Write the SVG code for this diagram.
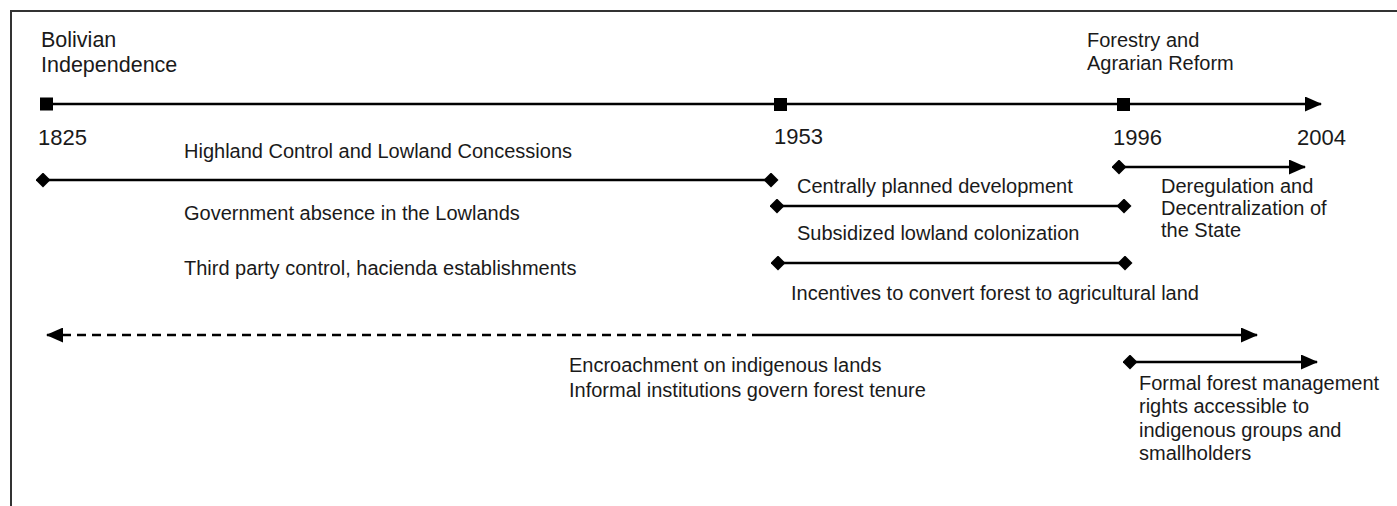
<svg xmlns="http://www.w3.org/2000/svg" width="1397" height="506" viewBox="0 0 1397 506">
<style>
  text { font-family: "Liberation Sans", Arial, sans-serif; font-size: 20px; fill: #1a1a1a; }
  .yr { font-size: 22px; }
  .big { font-size: 21.5px; }
  .ln { stroke: #000; stroke-width: 2.6; fill: none; }
  .dash { stroke-dasharray: 9 6; }
  .sq { fill: #000; }
</style>
<defs>
  <marker id="arr" viewBox="0 0 17 15" refX="16" refY="7.5" markerWidth="17" markerHeight="15" markerUnits="userSpaceOnUse" orient="auto-start-reverse">
    <path d="M0,0 L17,7.5 L0,15 Z" fill="#000"/>
  </marker>
  <marker id="dia" viewBox="0 0 15 15" refX="7.5" refY="7.5" markerWidth="15" markerHeight="15" markerUnits="userSpaceOnUse" orient="0">
    <path d="M7.5,0 L15,7.5 L7.5,15 L0,7.5 Z" fill="#000"/>
  </marker>
</defs>
<rect width="1397" height="506" fill="#fff"/>
<g id="frame">
  <path d="M11,506 L11,11 L1397,11" stroke="#333" stroke-width="2" fill="none"/>
</g>
<g id="connectors">
  <line id="main-timeline" class="ln" x1="47" y1="104" x2="1321" y2="104" marker-end="url(#arr)"/>
  <line class="ln" x1="43" y1="180" x2="771" y2="180" marker-start="url(#dia)" marker-end="url(#dia)"/>
  <line class="ln" x1="777" y1="206" x2="1124" y2="206" marker-start="url(#dia)" marker-end="url(#dia)"/>
  <line class="ln" x1="778" y1="263" x2="1125" y2="263" marker-start="url(#dia)" marker-end="url(#dia)"/>
  <line class="ln" x1="1119" y1="167" x2="1305" y2="167" marker-start="url(#dia)" marker-end="url(#arr)"/>
  <line class="ln dash" x1="47" y1="335" x2="757" y2="335" marker-start="url(#arr)"/>
  <line class="ln" x1="757" y1="335" x2="1257" y2="335" marker-end="url(#arr)"/>
  <line class="ln" x1="1130" y1="362" x2="1317" y2="362" marker-start="url(#dia)" marker-end="url(#arr)"/>
</g>
<g id="node-1825">
  <rect class="sq" x="40" y="97.5" width="13" height="13"/>
  <text class="big" x="41" y="47">Bolivian</text>
  <text class="big" x="41" y="72">Independence</text>
  <text class="yr" x="38" y="145">1825</text>
</g>
<g id="node-1953">
  <rect class="sq" x="774" y="98" width="13" height="13"/>
  <text class="yr" x="774" y="144">1953</text>
</g>
<g id="node-1996">
  <rect class="sq" x="1117" y="98" width="13" height="13"/>
  <text x="1087" y="47">Forestry and</text>
  <text x="1087" y="70">Agrarian Reform</text>
  <text class="yr" x="1113" y="145">1996</text>
</g>
<g id="node-2004">
  <text class="yr" x="1297" y="145">2004</text>
</g>
<g id="period-1825-1953">
  <text x="184" y="158">Highland Control and Lowland Concessions</text>
  <text x="184" y="220">Government absence in the Lowlands</text>
  <text x="184" y="275">Third party control, hacienda establishments</text>
</g>
<g id="period-1953-1996">
  <text x="797" y="193">Centrally planned development</text>
  <text x="797" y="240">Subsidized lowland colonization</text>
  <text x="791" y="300">Incentives to convert forest to agricultural land</text>
</g>
<g id="period-1996-2004">
  <text x="1161" y="193">Deregulation and</text>
  <text x="1161" y="215">Decentralization of</text>
  <text x="1161" y="237">the State</text>
</g>
<g id="encroachment">
  <text x="569" y="372">Encroachment on indigenous lands</text>
  <text x="569" y="397">Informal institutions govern forest tenure</text>
</g>
<g id="formal-rights">
  <text x="1139" y="390">Formal forest management</text>
  <text x="1139" y="413">rights accessible to</text>
  <text x="1139" y="437">indigenous groups and</text>
  <text x="1139" y="460">smallholders</text>
</g>
</svg>
